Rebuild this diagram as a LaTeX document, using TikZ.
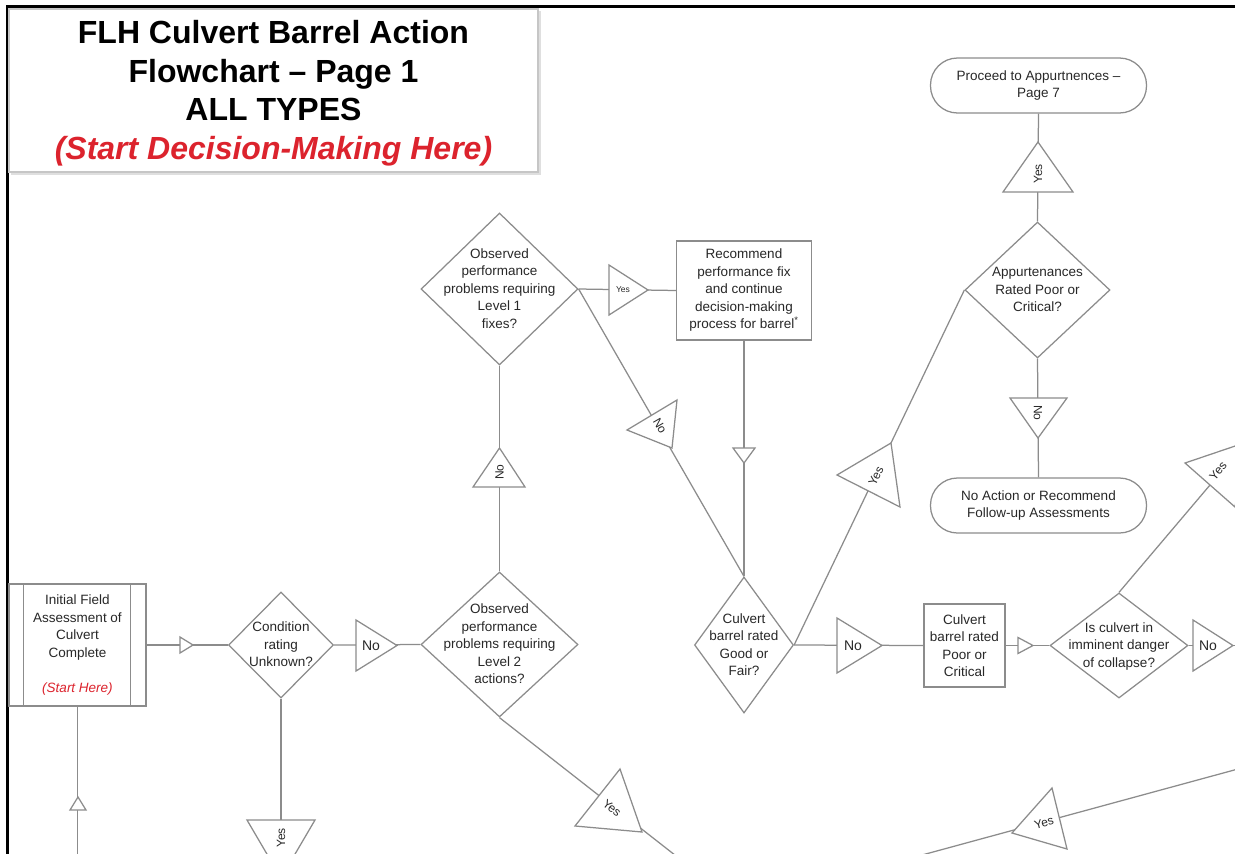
\documentclass[tikz,border=0pt]{standalone}
\usepackage{fontspec}
\setmainfont{Liberation Sans}
\usetikzlibrary{shapes.geometric,calc}
\definecolor{ln}{RGB}{140,140,140}
\definecolor{tx}{RGB}{40,40,40}
\definecolor{redt}{RGB}{220,35,45}
\newcommand\dtext[2][-4.5pt]{\smash{\makebox[0pt]{\raisebox{#1}{\begin{tabular}{@{}c@{}}#2\end{tabular}}}}}
\begin{document}
\begin{tikzpicture}[x=1pt,y=-1pt,
  every node/.style={text=tx},
  conn/.style={draw=ln, line width=1.25pt},
  shp/.style={draw=ln, line width=1.25pt, fill=white, inner sep=0pt},
  body/.style={font=\fontsize{13.5}{17.5}\selectfont},
  dia/.style={shp, diamond, body},
  box/.style={shp, rectangle, body, align=center},
  term/.style={shp, rectangle, rounded corners=27pt, body, align=center, minimum width=216pt, minimum height=55pt},
  tri/.style={draw=ln, line width=1.25pt, fill=white, line join=miter},
  lab/.style={inner sep=0pt, font=\fontsize{12}{14}\selectfont},
  labh/.style={inner sep=0pt, font=\fontsize{14}{16}\selectfont},
  labs/.style={inner sep=0pt, font=\fontsize{8.5}{10}\selectfont},
]
\useasboundingbox (0,0) rectangle (1235,854);
\fill[white] (0,0) rectangle (1235,854);
\clip (0,0) rectangle (1235,854);

% frame
\draw[line width=3pt, black] (7,6.5) -- (1240,6.5);
\draw[line width=3pt, black] (7,5) -- (7,860);

% title
\fill[gray!25] (11,11) rectangle (540.5,174.5);
\node[draw=gray!45, line width=1.2pt, fill=white, minimum width=529pt, minimum height=163pt, inner sep=0pt,
      align=center, text=black, font=\fontsize{32}{38.5}\selectfont\bfseries] (title) at (273.5,90.5)
  {\rule{0pt}{29pt}FLH Culvert Barrel Action\\Flowchart -- Page 1\\ALL TYPES\\{\color{redt}\itshape(Start Decision-Making Here)}};

% shapes
\node[box, minimum width=137pt, minimum height=122pt] (init) at (77.5,645)
  {Initial Field\\Assessment of\\Culvert\\Complete\\[17.5pt]{\color{redt}\itshape (Start Here)}};
\draw[conn] ([xshift=15pt]init.north west) -- ([xshift=15pt]init.south west);
\draw[conn] ([xshift=-16pt]init.north east) -- ([xshift=-16pt]init.south east);

\node[dia, minimum width=105pt, minimum height=106pt] (cond) at (281,645) {\dtext{Condition\\rating\\Unknown?}};
\node[dia, minimum width=157pt, minimum height=145pt] (l2) at (499.5,644.5) {\dtext{Observed\\performance\\problems requiring\\Level 2\\actions?}};
\node[dia, minimum width=157pt, minimum height=152pt] (l1) at (499.5,289) {\dtext{Observed\\performance\\problems requiring\\Level 1\\fixes?}};
\node[box, minimum width=135pt, minimum height=99pt] (rec) at (744,290.5)
  {Recommend\\performance fix\\and continue\\decision-making\\process for barrel\textsuperscript{*}};
\node[dia, minimum width=99pt, minimum height=136pt] (gf) at (744,645) {\dtext{Culvert\\barrel rated\\Good or\\Fair?}};
\node[box, minimum width=81pt, minimum height=83pt] (poor) at (964.5,645.5) {Culvert\\barrel rated\\Poor or\\Critical};
\node[dia, minimum width=138pt, minimum height=105pt] (isc) at (1119,645.5) {\dtext{Is culvert in\\imminent danger\\of collapse?}};
\node[dia, minimum width=145pt, minimum height=136pt] (ap) at (1037.5,290) {\dtext{Appurtenances\\Rated Poor or\\Critical?}};
\node[term] (proc) at (1038.5,85.5) {Proceed to Appurtnences --\\Page 7};
\node[term] (noact) at (1038.5,505.5) {No Action or Recommend\\Follow-up Assessments};

% free ends
\coordinate (exR) at (1240,645.5);
\coordinate (exUR) at (1260,426);
\coordinate (exL2) at (694,870);
\coordinate (exC) at (281,880);
\coordinate (exI) at (77.5,880);
\coordinate (inLR) at (1260,763);
\coordinate (outLR) at (900,861);

% connectors
\draw[conn] (init.east) -- (cond.west);
\draw[conn] (cond.east) -- (l2.west);
\draw[conn] (l2.north) -- (l1.south);
\draw[conn] (l1.east) -- (rec.west);
\draw[conn] (l1.east) -- (gf.north);
\draw[conn] (rec.south) -- (gf.north);
\draw[conn] (gf.east) -- (poor.west);
\draw[conn] (gf.east) -- (ap.west);
\draw[conn] (poor.east) -- (isc.west);
\draw[conn] (isc.east) -- (exR);
\draw[conn] (isc.north) -- (exUR);
\draw[conn] (ap.north) -- (proc.south);
\draw[conn] (ap.south) -- (noact.north);
\draw[conn] (l2.south) -- (exL2);
\draw[conn] (cond.south) -- (exC);
\draw[conn] (init.south) -- (exI);
\draw[conn] (inLR) -- (outLR);

% small open arrow heads
\draw[tri] (180,637) -- (180,653) -- (193,645) -- cycle;
\draw[tri] (733,448) -- (755,448) -- (744,463) -- cycle;
\draw[tri] (1018,637.5) -- (1018,653.5) -- (1033,645.5) -- cycle;
\draw[tri] (70,810) -- (86,810) -- (78,797) -- cycle;

% label triangles
\draw[tri] (356,620) -- (356,671) -- (397,645.5) -- cycle;
\node[labh] (t1) at (371,645.5) {No};
\draw[tri] (609,265) -- (609,315) -- (648,290) -- cycle;
\node[labs] (t2) at (623,290) {Yes};
\draw[tri] (837,618) -- (837,673) -- (882,645.5) -- cycle;
\node[labh] (t3) at (853,645.5) {No};
\draw[tri] (1193,620) -- (1193,671) -- (1233,645.5) -- cycle;
\node[labh] (t4) at (1208,645.5) {No};

\draw[tri] (473,487) -- (525,487) -- (499.5,448) -- cycle;
\node[lab, rotate=90] (t5) at (499.5,472) {No};
\draw[tri] (1003,192) -- (1073,192) -- (1038,142) -- cycle;
\node[lab, rotate=90] (t6) at (1038,174) {Yes};
\draw[tri] (1010,398) -- (1067,398) -- (1038,438) -- cycle;
\node[lab, rotate=-90] (t7) at (1038,413) {No};
\draw[tri] (247,820) -- (315,820) -- (281,878) -- cycle;
\node[lab, rotate=90] (t8) at (281,838) {Yes};

\draw[tri] (627,430) -- (677,400) -- (672,448) -- cycle;
\node[lab, rotate=-60] (t9) at (660,426) {No};
\draw[tri] (837,475) -- (891,443) -- (900,507) -- cycle;
\node[lab, rotate=64] (t10) at (876,476) {Yes};
\draw[tri] (620,769) -- (575,826) -- (642,832) -- cycle;
\node[lab, rotate=-38] (t11) at (612,808) {Yes};
\draw[tri] (1052,788) -- (1067,849) -- (1012,833) -- cycle;
\node[lab, rotate=15] (t12) at (1044,823) {Yes};
\draw[tri] (1185,463) -- (1247,442) -- (1235,507) -- cycle;
\node[lab, rotate=50] (t13) at (1218,471) {Yes};
\end{tikzpicture}
\end{document}
